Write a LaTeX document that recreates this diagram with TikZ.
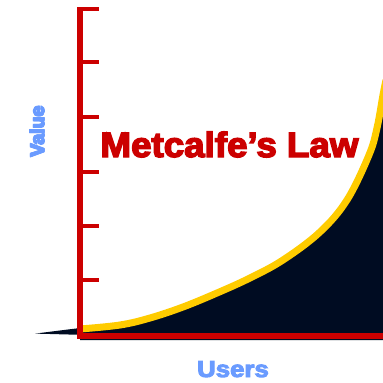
\documentclass[tikz,border=0pt]{standalone}
\usepackage{fontspec}
\setmainfont{Liberation Sans}
\newfontfamily\heavyfont[FakeBold=4]{Liberation Sans Bold}
\definecolor{axisred}{HTML}{CC0000}
\definecolor{curveyellow}{HTML}{FFCC00}
\definecolor{areanavy}{HTML}{000C22}
\definecolor{labelblue}{HTML}{6A9BFF}
% overprints a word with small offsets so its strokes come out heavier
\newcommand\thickword[1]{%
  \rlap{\hspace{0.7pt}#1}\rlap{\raisebox{0.6pt}{#1}}\rlap{\hspace{0.7pt}\raisebox{0.6pt}{#1}}#1}
\tikzset{
  axisline/.style={draw=axisred, line width=6pt},
  tickline/.style={draw=axisred, line width=4pt},
  curveline/.style={draw=curveyellow, line width=7pt, line join=round},
  axislabel/.style={text=labelblue, font=\heavyfont, inner sep=0pt, anchor=base},
  titlelabel/.style={text=axisred, font=\heavyfont, inner sep=0pt, anchor=base}
}
\begin{document}
\begin{tikzpicture}[x=1pt,y=-1pt]
  \useasboundingbox (0,0) rectangle (383,383);
  % area under the growth curve, with its thin tail left of the axis
  \fill[areanavy] (35,333.6) -- (80,328)
    -- plot[smooth, tension=0.6] coordinates {(80,328) (120,325) (150,318) (183,307) (217,293) (250,278) (283,260) (320,232) (347,200) (369,155) (377,128) (383,95) (386,80)}
    -- (386,340) -- (80,340) -- (80,334.8) -- cycle;
  % growth curve
  \draw[curveline] plot[smooth, tension=0.6] coordinates {(80,329) (120,325) (150,318) (183,307) (217,293) (250,278) (283,260) (320,232) (347,200) (369,155) (377,128) (383,95) (386,80)};
  % axes
  \coordinate (origin) at (80,336);
  \coordinate (ytop) at (80,7);
  \coordinate (xend) at (386,336);
  \draw[axisline] (ytop) -- (80,339);
  \draw[axisline] (77,336) -- (xend);
  % value ticks
  \foreach \ty in {9,62,117,172,226,280}
    \draw[tickline] (77,\ty) -- (99,\ty);
  % labels
  \node[titlelabel, xscale=1.05] (title) at (229.5,157) {\fontsize{35}{35}\selectfont Metcalfe’s Law};
  \node[text=labelblue, inner sep=0pt, anchor=center] (ylab) at (37,131.5)
    {\rotatebox{90}{\heavyfont\fontsize{19.5}{20}\selectfont\thickword{Value}}};
  \node[axislabel, xscale=1.12] (xlab) at (233,377) {\fontsize{23}{23}\selectfont Users};
\end{tikzpicture}
\end{document}
